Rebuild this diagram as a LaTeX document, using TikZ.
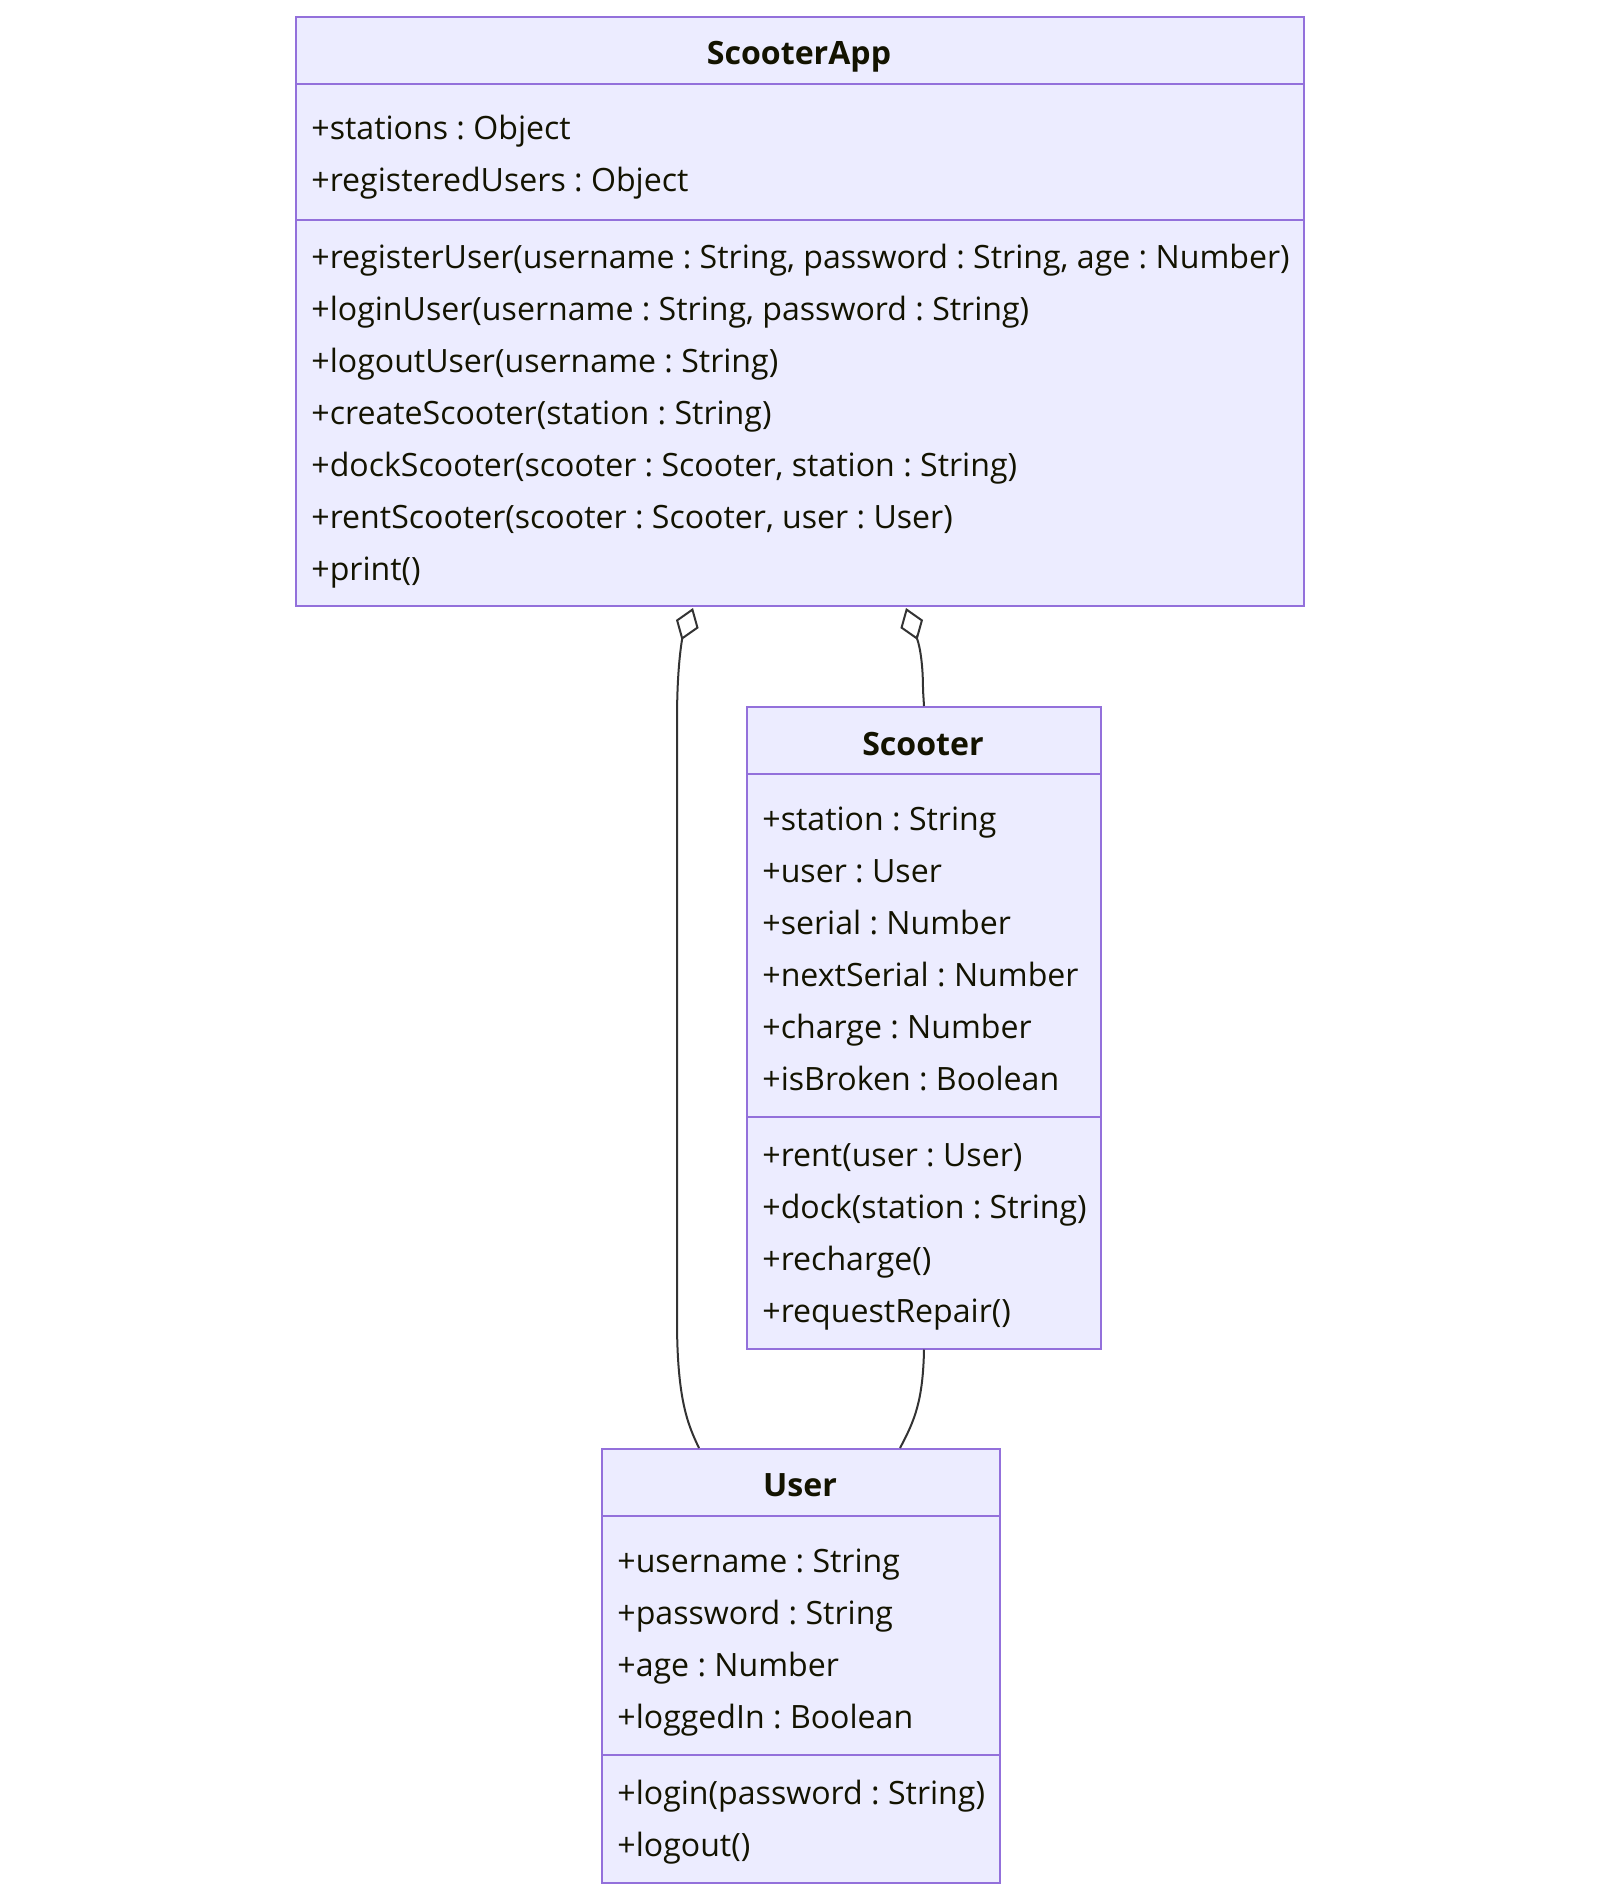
\documentclass[tikz,border=0pt]{standalone}
\usepackage{fontspec}
\setmainfont{Open Sans}
\usepackage{tikz}
\usetikzlibrary{arrows.meta,positioning,calc}
\definecolor{umlfill}{HTML}{ECECFF}
\definecolor{umlborder}{HTML}{9370DB}
\definecolor{umltext}{HTML}{131300}
\definecolor{linegray}{HTML}{333333}
\newcommand{\umlfont}{\fontsize{16.05pt}{20pt}\selectfont\frenchspacing}
\tikzset{
    classbox/.style={draw=umlborder, fill=umlfill, line width=1pt, inner sep=0pt, anchor=north west},
    divider/.style={draw=umlborder, line width=1pt},
    classtitle/.style={font=\umlfont\bfseries, text=umltext, inner sep=0pt, anchor=base},
    member/.style={font=\umlfont, text=umltext, inner sep=0pt, anchor=base west},
    assoc/.style={draw=linegray, line width=1pt},
    aggr/.style={assoc, {Diamond[open, length=17pt, width=12pt]}-}
}
\begin{document}
\begin{tikzpicture}[x=0.5pt, y=-0.5pt]
    \useasboundingbox (0,0) rectangle (1600,1898);

    % ScooterApp
    \node[classbox, minimum width=504pt, minimum height=294.5pt] (app) at (295,16) {};
    \draw[divider] ($(app.north west)+(0,68)$) -- ($(app.north east)+(0,68)$);
    \draw[divider] ($(app.north west)+(0,204)$) -- ($(app.north east)+(0,204)$);
    \node[classtitle] (appT) at (799,65) {ScooterApp};
    \node[member] (appA1) at (311,140) {+stations : Object};
    \node[member] (appA2) at (311,192) {+registeredUsers : Object};
    \node[member] (appM1) at (311,269) {+registerUser(username : String, password : String, age : Number)};
    \node[member] (appM2) at (311,321) {+loginUser(username : String, password : String)};
    \node[member] (appM3) at (311,373) {+logoutUser(username : String)};
    \node[member] (appM4) at (311,425) {+createScooter(station : String)};
    \node[member] (appM5) at (311,477) {+dockScooter(scooter : Scooter, station : String)};
    \node[member] (appM6) at (311,529) {+rentScooter(scooter : Scooter, user : User)};
    \node[member] (appM7) at (311,581) {+print()};

    % Scooter
    \node[classbox, minimum width=177pt, minimum height=320.75pt] (scooter) at (746,706) {};
    \draw[divider] ($(scooter.north west)+(0,68)$) -- ($(scooter.north east)+(0,68)$);
    \draw[divider] ($(scooter.north west)+(0,411)$) -- ($(scooter.north east)+(0,411)$);
    \node[classtitle] (scooterT) at (923,755) {Scooter};
    \node[member] (scooterA1) at (762,830) {+station : String};
    \node[member] (scooterA2) at (762,882) {+user : User};
    \node[member] (scooterA3) at (762,934) {+serial : Number};
    \node[member] (scooterA4) at (762,986) {+nextSerial : Number};
    \node[member] (scooterA5) at (762,1038) {+charge : Number};
    \node[member] (scooterA6) at (762,1090) {+isBroken : Boolean};
    \node[member] (scooterM1) at (762,1166) {+rent(user : User)};
    \node[member] (scooterM2) at (762,1218) {+dock(station : String)};
    \node[member] (scooterM3) at (762,1270) {+recharge()};
    \node[member] (scooterM4) at (762,1322) {+requestRepair()};

    % User
    \node[classbox, minimum width=199pt, minimum height=217pt] (user) at (601,1448) {};
    \draw[divider] ($(user.north west)+(0,68)$) -- ($(user.north east)+(0,68)$);
    \draw[divider] ($(user.north west)+(0,307)$) -- ($(user.north east)+(0,307)$);
    \node[classtitle] (userT) at (800,1496) {User};
    \node[member] (userA1) at (617,1572) {+username : String};
    \node[member] (userA2) at (617,1624) {+password : String};
    \node[member] (userA3) at (617,1676) {+age : Number};
    \node[member] (userA4) at (617,1728) {+loggedIn : Boolean};
    \node[member] (userM1) at (617,1804) {+login(password : String)};
    \node[member] (userM2) at (617,1856) {+logout()};

    % Connections
    \coordinate (appToUser) at ($(app.south west)+(398,1)$);
    \coordinate (appToScooter) at ($(app.south west)+(611,1)$);
    \coordinate (userLeft) at ($(user.north west)+(98,0)$);
    \coordinate (userRight) at ($(user.north west)+(299,0)$);

    \draw[aggr] (appToUser) .. controls (683,636) and (677,660) .. (677,720)
        -- (677,1320) .. controls (677,1400) and (688,1425) .. (userLeft);
    \draw[aggr] (appToScooter) .. controls (916,636) and (923,650) .. (923,690)
        -- (scooter.north);
    \draw[assoc] (scooter.south) .. controls (923,1400) and (915,1420) .. (userRight);
\end{tikzpicture}
\end{document}
